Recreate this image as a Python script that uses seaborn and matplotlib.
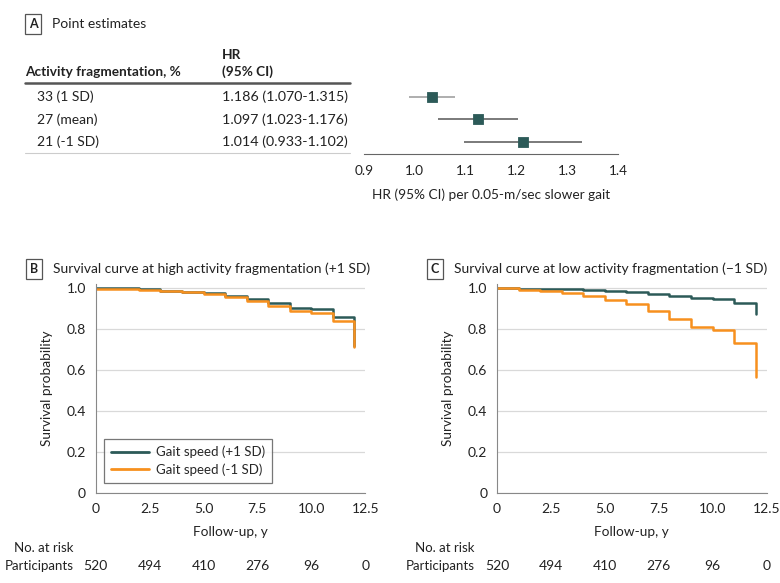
import numpy as np
import pandas as pd
import matplotlib
matplotlib.use("Agg")
import matplotlib.pyplot as plt
import seaborn as sns

sns.set_style("white")
plt.rcParams["font.family"] = ["Lato", "DejaVu Sans"]

# panel A: table text and plotted estimates
row_labels = ["33 (1 SD)", "27 (mean)", "21 (-1 SD)"]
hr_text = ["1.186 (1.070-1.315)", "1.097 (1.023-1.176)", "1.014 (0.933-1.102)"]
hr_point = [1.034, 1.124, 1.212]
hr_low = [0.989, 1.045, 1.097]
hr_high = [1.079, 1.202, 1.328]
forest_ticks = [0.9, 1.0, 1.1, 1.2, 1.3, 1.4]

# panels B and C: step survival curves at yearly steps
years = list(range(13))
b_fast = [1.0, 1.0, 0.995, 0.989, 0.984, 0.976, 0.964, 0.948, 0.928, 0.906, 0.898, 0.859, 0.72]
b_slow = [0.998, 0.998, 0.993, 0.985, 0.980, 0.971, 0.958, 0.938, 0.914, 0.889, 0.880, 0.841, 0.715]
c_fast = [1.0, 0.997, 0.997, 0.997, 0.990, 0.987, 0.980, 0.974, 0.964, 0.951, 0.946, 0.930, 0.875]
c_slow = [1.0, 0.992, 0.987, 0.979, 0.963, 0.945, 0.924, 0.888, 0.849, 0.813, 0.798, 0.735, 0.566]
series_names = ["Gait speed (+1 SD)", "Gait speed (-1 SD)"]
risk_times = [0, 2.5, 5.0, 7.5, 10.0, 12.5]
at_risk = [520, 494, 410, 276, 96, 0]
x_ticks = [0, 2.5, 5.0, 7.5, 10.0, 12.5]
x_ticklabels = ["0", "2.5", "5.0", "7.5", "10.0", "12.5"]
y_ticks = [0, 0.2, 0.4, 0.6, 0.8, 1.0]
y_ticklabels = ["0", "0.2", "0.4", "0.6", "0.8", "1.0"]

teal = "#2c5a58"
orange = "#f7901e"
txt = "#222222"
fs = 9.8
W, H = 780, 583

fig = plt.figure(figsize=(7.8, 5.83), dpi=100)


def fx(x):
    return x / W


def fy(y):
    return 1 - y / H


def panel_title(x, y, letter, title):
    fig.text(fx(x), fy(y), letter, fontsize=9, fontweight="bold", color=txt, va="center", ha="center",
             bbox=dict(boxstyle="square,pad=0.32", fc="white", ec="#555555", lw=0.9))
    fig.text(fx(x + 19), fy(y), title, fontsize=10, color=txt, va="center")


# ---- panel A ----
panel_title(33, 24, "A", "Point estimates")
fig.text(fx(222), fy(55), "HR", fontsize=fs, fontweight="bold", color=txt, va="center")
fig.text(fx(222), fy(72), "(95% CI)", fontsize=fs, fontweight="bold", color=txt, va="center")
fig.text(fx(25), fy(72), "Activity fragmentation, %", fontsize=fs, fontweight="bold", color=txt, va="center")
fig.add_artist(plt.Line2D([fx(25), fx(350)], [fy(83), fy(83)], color="#555555", lw=1.8))
fig.add_artist(plt.Line2D([fx(25), fx(350)], [fy(153), fy(153)], color="#cccccc", lw=0.8))
for i, (lab, hr) in enumerate(zip(row_labels, hr_text)):
    y = [97, 119.5, 142][i]
    fig.text(fx(37), fy(y), lab, fontsize=10, color=txt, va="center")
    fig.text(fx(222), fy(y), hr, fontsize=10.3, color=txt, va="center")

forest = pd.DataFrame({"row": [1, 2, 3], "hr": hr_point, "lo": hr_low, "hi": hr_high})
axf = fig.add_axes([fx(364), fy(154), fx(618.3) - fx(364), fy(85) - fy(154)])
axf.hlines(forest["row"], forest["lo"], forest["hi"], colors=["#a8a8a8", "#707070", "#707070"], lw=1.3)
sns.scatterplot(data=forest, x="hr", y="row", marker="s", s=55, color=teal, edgecolor=teal, ax=axf, zorder=3)
axf.set_xlim(0.9, 1.4)
axf.set_ylim(3.53, 0.47)
axf.set_xticks(forest_ticks)
axf.set_xticklabels([f"{t:.1f}" for t in forest_ticks])
axf.set_yticks([])
axf.set_ylabel("")
axf.set_xlabel("HR (95% CI) per 0.05-m/sec slower gait", fontsize=fs, color=txt, labelpad=8)
for s in ["top", "right", "left"]:
    axf.spines[s].set_visible(False)
axf.spines["bottom"].set_color("#666666")
axf.tick_params(axis="x", direction="out", length=4, color="#666666", labelsize=fs, labelcolor=txt, pad=4)
axf.patch.set_alpha(0)


# ---- panels B and C ----
def survival_panel(left_px, fast, slow, letter, title, legend):
    ax = fig.add_axes([fx(left_px), fy(493.3), (269.5) / W, (493.3 - 284.2) / H])
    df = pd.DataFrame({
        "year": years + years,
        "surv": fast + slow,
        "group": [series_names[0]] * len(years) + [series_names[1]] * len(years),
    })
    sns.lineplot(data=df, x="year", y="surv", hue="group", palette=[teal, orange],
                 drawstyle="steps-post", lw=1.8, ax=ax, legend=legend)
    ax.set_xlim(0, 12.5)
    ax.set_ylim(0, 1.02)
    ax.set_xticks(x_ticks)
    ax.set_xticklabels(x_ticklabels)
    ax.set_yticks(y_ticks)
    ax.set_yticklabels(y_ticklabels)
    ax.yaxis.grid(True, color="#d9d9d9", lw=0.9)
    ax.set_axisbelow(True)
    for s in ["top", "right"]:
        ax.spines[s].set_visible(False)
    for s in ["left", "bottom"]:
        ax.spines[s].set_color("#888888")
    ax.tick_params(direction="out", length=4, color="#888888", labelsize=10, labelcolor=txt, pad=3)
    ax.set_xlabel("Follow-up, y", fontsize=fs, color=txt, labelpad=8)
    ax.set_ylabel("Survival probability", fontsize=fs, color=txt, labelpad=10)
    if legend:
        leg = ax.legend(title=None, loc="lower left", bbox_to_anchor=(0.03, 0.05), fontsize=9.5,
                        frameon=True, fancybox=False, handlelength=2.9, handletextpad=0.5,
                        borderpad=0.55, labelspacing=0.35, borderaxespad=0)
        leg.get_frame().set_edgecolor("#555555")
        leg.get_frame().set_linewidth(0.9)
        for line in leg.get_lines():
            line.set_linewidth(2)
    panel_title(left_px - 62, 269, letter, title)
    # at-risk table below the axis
    fig.text(fx(left_px - 52), fy(548), "No. at risk", fontsize=9.5, color=txt, va="center", ha="center")
    fig.text(fx(left_px - 22), fy(566), "Participants", fontsize=9.5, color=txt, va="center", ha="right")
    for t, n in zip(risk_times, at_risk):
        ax.annotate(str(n), xy=(t, 0), xycoords=("data", "axes fraction"), xytext=(0, -(566 - 493.3)),
                    textcoords="offset pixels", ha="center", va="center", fontsize=10, color=txt,
                    annotation_clip=False)
    return ax


survival_panel(95.7, b_fast, b_slow, "B", "Survival curve at high activity fragmentation (+1 SD)", True)
survival_panel(497, c_fast, c_slow, "C", "Survival curve at low activity fragmentation (\u22121 SD)", False)

fig.savefig("out.png", dpi=100)
print("saved out.png")
